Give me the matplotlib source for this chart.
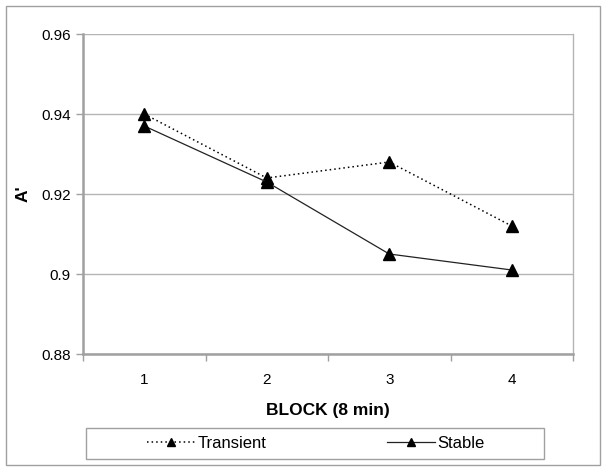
import numpy as np
import matplotlib
matplotlib.use("Agg")
import matplotlib.pyplot as plt
from matplotlib.patches import Rectangle
from matplotlib.lines import Line2D

plt.rcParams['font.family'] = ['Liberation Sans', 'DejaVu Sans']

# data
blocks = [1, 2, 3, 4]
transient = [0.940, 0.924, 0.928, 0.912]
stable = [0.937, 0.923, 0.905, 0.901]
yticks = [0.88, 0.90, 0.92, 0.94, 0.96]
ytick_labels = ['0.88', '0.9', '0.92', '0.94', '0.96']

W, H = 611, 472
fig = plt.figure(figsize=(W / 100, H / 100), dpi=100)
fig.patch.set_facecolor('white')

# plot area in pixel coords: x 83..573, y 34..354
ax = fig.add_axes([83 / W, 1 - 354 / H, 490 / W, 320 / H])

ax.plot(blocks, transient, color='black', linestyle=(0, (1, 2)), linewidth=1.1,
        marker='^', markersize=8, label='Transient')
ax.plot(blocks, stable, color='#222222', linestyle='-', linewidth=0.9,
        marker='^', markersize=8, markerfacecolor='black', markeredgecolor='black',
        label='Stable')

ax.set_xlim(0.5, 4.5)
ax.set_ylim(0.88, 0.96)
ax.set_yticks(yticks)
ax.set_yticklabels(ytick_labels)
ax.yaxis.grid(True, color='#b4b4b4', linewidth=1)
ax.set_axisbelow(True)

# category boundary ticks on x, labels in between
ax.set_xticks([0.5, 1.5, 2.5, 3.5, 4.5])
ax.set_xticklabels([])
ax.set_xticks(blocks, minor=True)
ax.set_xticklabels([str(b) for b in blocks], minor=True)
ax.tick_params(axis='x', which='minor', length=0, pad=14, labelsize=11)
ax.tick_params(axis='x', which='major', length=5, color='#a0a0a0', width=1)
ax.tick_params(axis='y', length=5, color='#a0a0a0', width=1, labelsize=11, pad=4)

for side in ['left', 'bottom']:
    ax.spines[side].set_color('#a0a0a0')
    ax.spines[side].set_linewidth(1.8)
ax.spines['right'].set_color('#b4b4b4')
ax.spines['right'].set_linewidth(1)
ax.spines['top'].set_visible(False)

ax.set_xlabel('BLOCK (8 min)', fontsize=12.5, fontweight='bold', labelpad=11)
ax.set_ylabel("A'", fontsize=12.5, fontweight='bold')
ax.yaxis.set_label_coords(-0.108, 0.5)

# outer chart border and legend box
fig.patches.append(Rectangle((6 / W, 1 - 465 / H), 594 / W, 459 / H,
                             transform=fig.transFigure, fill=False,
                             edgecolor='#a0a0a0', linewidth=1))
fig.patches.append(Rectangle((86 / W, 1 - 459 / H), 458 / W, 31 / H,
                             transform=fig.transFigure, fill=False,
                             edgecolor='#a0a0a0', linewidth=1))

handles = [Line2D([], [], color='black', linestyle=(0, (1, 2)), linewidth=1.1,
                  marker='^', markersize=6),
           Line2D([], [], color='#222222', linestyle='-', linewidth=0.9,
                  marker='^', markersize=6, markerfacecolor='black',
                  markeredgecolor='black')]
fig.legend(handles, ['Transient', 'Stable'], loc='center',
           bbox_to_anchor=(316 / W, 1 - 443.5 / H), ncol=2, frameon=False,
           fontsize=12, handlelength=2.9, handletextpad=0.15,
           columnspacing=7.2, borderpad=0)

fig.savefig('out.png', dpi=100)
